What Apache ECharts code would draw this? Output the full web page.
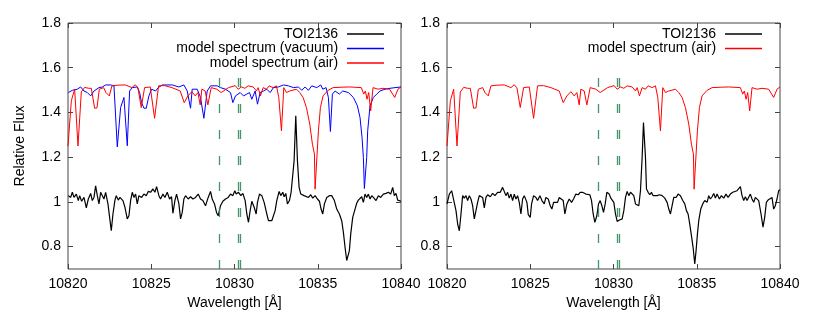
<!DOCTYPE html>
<html>
<head>
<meta charset="utf-8">
<title>TOI2136 He 10830</title>
<script src="https://cdn.jsdelivr.net/npm/echarts@6.0.0/dist/echarts.min.js"></script>
<style>
  html, body { margin: 0; padding: 0; background: #fff; }
  #chart { width: 831px; height: 320px; }
</style>
</head>
<body>
<div id="chart"></div>
<script>
// x ticks and y ticks
var xTicks = [10820, 10825, 10830, 10835, 10840];
var yTicks = [0.8, 1, 1.2, 1.4, 1.6, 1.8];

// He I triplet positions (air), dashed green markers
var heLines = [10829.09, 10830.25, 10830.34];

// TOI2136 observed spectrum (left panel)
var toiLeft = [
  [10820.02,1.028],[10820.16,1.02],[10820.26,1.043],[10820.36,1.02],[10820.50,1.035],[10820.62,1.006],
  [10820.70,1.028],[10820.82,1.003],[10820.96,1.02],[10821.10,0.973],[10821.22,1.013],[10821.36,1.038],
  [10821.46,1.006],[10821.56,1.02],[10821.66,1.072],[10821.76,1.028],[10821.86,0.991],[10821.96,1.043],
  [10822.06,1.05],[10822.16,1.013],[10822.26,1.043],[10822.40,0.991],[10822.50,0.931],[10822.60,0.871],
  [10822.70,0.946],[10822.82,1.008],[10822.90,1.028],[10823.02,1.008],[10823.12,1.02],[10823.22,1.028],
  [10823.30,1.006],[10823.42,0.976],[10823.56,0.924],[10823.66,0.938],[10823.76,1.006],[10823.86,1.043],
  [10823.96,1.02],[10824.06,1.035],[10824.16,0.991],[10824.26,1.028],[10824.42,1.02],[10824.56,1.035],
  [10824.70,1.028],[10824.82,1.047],[10824.96,1.043],[10825.10,1.058],[10825.22,1.043],[10825.32,1.068],
  [10825.46,1.028],[10825.56,1.013],[10825.70,1.035],[10825.82,1.02],[10825.96,1.043],[10826.10,1.013],
  [10826.22,1.023],[10826.30,0.949],[10826.42,1.006],[10826.52,1.035],[10826.66,0.991],[10826.76,0.924],
  [10826.86,0.953],[10826.96,1.013],[10827.06,1.028],[10827.22,1.013],[10827.36,1.023],[10827.50,1.013],
  [10827.66,1.02],[10827.82,1.035],[10827.96,1.013],[10828.10,1.006],[10828.26,0.983],[10828.42,1.02],
  [10828.56,1.047],[10828.66,1.013],[10828.80,0.991],[10828.92,0.953],[10829.02,0.938],[10829.16,0.983],
  [10829.30,1.003],[10829.46,1.013],[10829.62,1.02],[10829.76,1.035],[10829.90,1.028],[10830.02,1.05],
  [10830.10,1.035],[10830.24,1.043],[10830.38,1.028],[10830.50,1.038],[10830.64,1.006],[10830.74,0.946],
  [10830.84,0.909],[10830.94,0.961],[10831.04,1.003],[10831.18,0.976],[10831.30,0.946],[10831.38,0.998],
  [10831.50,1.035],[10831.64,1.028],[10831.78,0.998],[10831.94,0.946],[10832.04,0.916],[10832.14,0.924],
  [10832.24,0.916],[10832.34,0.919],[10832.44,0.961],[10832.54,1.006],[10832.68,1.047],[10832.78,1.028],
  [10832.90,1.043],[10832.98,1.023],[10833.08,1.038],[10833.18,0.991],[10833.30,1.006],[10833.40,1.043],
  [10833.50,1.05],[10833.58,1.184],[10833.68,1.385],[10833.78,1.184],[10833.88,1.065],[10833.98,1.035],
  [10834.08,1.043],[10834.18,1.028],[10834.30,1.035],[10834.44,1.02],[10834.58,1.032],[10834.70,1.017],
  [10834.84,1.028],[10834.98,1.013],[10835.10,1.003],[10835.20,0.968],[10835.30,0.946],[10835.40,0.991],
  [10835.54,1.02],[10835.70,1.028],[10835.84,1.028],[10836.00,1.006],[10836.14,0.968],[10836.30,0.946],
  [10836.44,0.916],[10836.54,0.864],[10836.64,0.797],[10836.74,0.738],[10836.82,0.73],[10836.90,0.782],
  [10836.98,0.856],[10837.10,0.931],[10837.24,0.968],[10837.34,0.994],[10837.44,1.008],[10837.54,1.003],
  [10837.64,1.023],[10837.74,0.998],[10837.84,1.035],[10837.94,1.02],[10838.04,1.035],[10838.14,1.013],
  [10838.24,1.028],[10838.38,1.017],[10838.50,1.006],[10838.64,1.028],[10838.78,1.02],[10838.94,1.035],
  [10839.10,1.038],[10839.24,1.043],[10839.38,1.035],[10839.50,1.065],[10839.60,1.028],[10839.70,1.038],
  [10839.80,1.008],[10839.90,1.013],[10840.00,1.003]
];

// TOI2136 spectrum (right panel)
var toiRight = [
  [10820.00,0.991],[10820.14,1.035],[10820.28,1.05],[10820.40,1.043],[10820.54,0.961],[10820.64,0.901],
  [10820.74,0.871],[10820.84,0.946],[10820.94,1.028],[10821.04,1.017],[10821.14,1.028],[10821.24,1.006],
  [10821.34,1.028],[10821.44,1.013],[10821.54,0.983],[10821.64,0.924],[10821.74,0.931],[10821.84,0.998],
  [10821.94,1.028],[10822.04,1.035],[10822.14,1.02],[10822.24,0.973],[10822.34,1.02],[10822.44,1.032],
  [10822.60,1.023],[10822.74,1.038],[10822.88,1.028],[10823.04,1.043],[10823.20,1.043],[10823.34,1.065],
  [10823.44,1.058],[10823.54,1.028],[10823.64,1.043],[10823.74,1.017],[10823.84,1.035],[10823.94,1.006],
  [10824.04,1.035],[10824.14,1.013],[10824.24,1.028],[10824.34,0.998],[10824.44,0.946],[10824.54,1.013],
  [10824.64,1.028],[10824.80,0.998],[10824.88,0.943],[10825.00,0.931],[10825.08,0.991],[10825.20,1.028],
  [10825.34,1.02],[10825.44,1.006],[10825.58,1.028],[10825.70,1.006],[10825.84,0.991],[10825.94,1.02],
  [10826.08,1.013],[10826.20,0.983],[10826.30,0.968],[10826.40,0.998],[10826.50,1.003],[10826.64,0.998],
  [10826.74,1.02],[10826.84,1.028],[10826.98,1.006],[10827.08,0.946],[10827.20,0.991],[10827.34,1.013],
  [10827.48,0.998],[10827.60,1.013],[10827.74,1.035],[10827.88,1.032],[10828.00,1.043],[10828.14,1.043],
  [10828.24,1.05],[10828.34,1.035],[10828.44,1.043],[10828.58,1.032],[10828.68,1.006],[10828.78,0.946],
  [10828.88,0.909],[10829.00,0.938],[10829.10,0.991],[10829.20,1.006],[10829.30,0.983],[10829.40,0.953],
  [10829.50,0.991],[10829.60,1.043],[10829.74,1.035],[10829.84,1.017],[10829.94,1.023],[10830.02,0.998],
  [10830.12,0.946],[10830.22,0.913],[10830.36,0.919],[10830.52,0.924],[10830.62,0.961],[10830.72,1.02],
  [10830.82,1.047],[10830.92,1.028],[10831.02,1.043],[10831.12,1.047],[10831.22,1.028],[10831.32,0.991],
  [10831.42,0.983],[10831.52,0.983],[10831.62,1.05],[10831.72,1.199],[10831.80,1.355],[10831.86,1.355],
  [10831.92,1.199],[10831.98,1.058],[10832.08,1.043],[10832.18,1.032],[10832.28,1.043],[10832.38,1.028],
  [10832.48,1.035],[10832.62,1.028],[10832.76,1.032],[10832.92,1.028],[10833.08,1.017],[10833.22,0.998],
  [10833.32,0.968],[10833.42,0.946],[10833.52,0.983],[10833.62,1.02],[10833.76,1.02],[10833.88,1.035],
  [10834.02,1.028],[10834.16,1.006],[10834.28,0.991],[10834.38,0.961],[10834.48,0.946],[10834.58,0.901],
  [10834.68,0.849],[10834.78,0.797],[10834.88,0.723],[10834.96,0.782],[10835.04,0.856],[10835.12,0.916],
  [10835.24,0.968],[10835.36,0.991],[10835.48,1.006],[10835.62,0.998],[10835.72,1.028],[10835.82,1.013],
  [10835.92,1.023],[10836.02,1.038],[10836.12,1.017],[10836.22,1.035],[10836.36,1.013],[10836.48,1.028],
  [10836.62,1.017],[10836.76,1.035],[10836.88,1.02],[10837.02,1.035],[10837.16,1.043],[10837.28,1.038],
  [10837.42,1.05],[10837.52,1.043],[10837.62,1.068],[10837.72,1.028],[10837.82,1.006],[10837.92,1.023],
  [10838.02,1.006],[10838.12,0.998],[10838.22,1.035],[10838.32,1.013],[10838.42,0.998],[10838.52,1.02],
  [10838.62,1.028],[10838.72,1.006],[10838.86,0.946],[10838.98,0.887],[10839.08,0.931],[10839.18,0.998],
  [10839.28,1.008],[10839.38,1.003],[10839.52,1.02],[10839.62,0.968],[10839.72,0.983],[10839.82,1.013],
  [10839.92,1.05],[10840.00,1.055]
];

// model spectrum, vacuum wavelengths
var modelVacuum = [
  [10820.02,1.489],[10820.26,1.499],[10820.56,1.504],[10820.76,1.514],[10820.96,1.496],[10821.16,1.489],
  [10821.36,1.474],[10821.56,1.496],[10821.86,1.511],[10822.06,1.514],[10822.26,1.523],[10822.56,1.523],
  [10822.76,1.519],[10822.96,1.246],[10823.16,1.422],[10823.36,1.467],[10823.56,1.251],[10823.70,1.496],
  [10823.86,1.511],[10824.16,1.514],[10824.30,1.489],[10824.42,1.444],[10824.56,1.419],[10824.70,1.419],
  [10824.86,1.474],[10825.02,1.504],[10825.26,1.496],[10825.42,1.511],[10825.66,1.523],[10826.26,1.523],
  [10826.66,1.514],[10826.96,1.523],[10827.16,1.496],[10827.36,1.419],[10827.46,1.504],[10827.76,1.504],
  [10827.96,1.467],[10828.16,1.374],[10828.36,1.496],[10828.56,1.519],[10828.96,1.519],[10829.16,1.511],
  [10829.46,1.504],[10829.76,1.489],[10829.90,1.444],[10830.06,1.474],[10830.34,1.489],[10830.54,1.474],
  [10830.74,1.482],[10830.90,1.489],[10831.04,1.459],[10831.24,1.496],[10831.38,1.437],[10831.54,1.489],
  [10831.74,1.496],[10831.94,1.504],[10832.14,1.489],[10832.34,1.511],[10832.64,1.514],[10832.94,1.523],
  [10833.24,1.519],[10833.54,1.511],[10833.84,1.514],[10834.04,1.499],[10834.24,1.514],[10834.44,1.499],
  [10834.64,1.519],[10834.94,1.511],[10835.18,1.523],[10835.30,1.504],[10835.50,1.511],[10835.64,1.467],
  [10835.76,1.315],[10835.88,1.482],[10836.04,1.496],[10836.30,1.482],[10836.50,1.496],[10836.84,1.489],
  [10837.14,1.467],[10837.38,1.43],[10837.54,1.377],[10837.66,1.288],[10837.74,1.199],[10837.80,1.06],
  [10837.88,1.057],[10837.94,1.199],[10838.00,1.318],[10838.14,1.43],[10838.34,1.467],[10838.54,1.482],
  [10838.74,1.496],[10839.04,1.504],[10839.34,1.508],[10839.64,1.511],[10840.00,1.514]
];

// model spectrum, air wavelengths
var modelAir = [
  [10820.00,1.25],[10820.20,1.452],[10820.40,1.504],[10820.60,1.25],[10820.80,1.492],[10821.00,1.512],
  [10821.24,1.508],[10821.40,1.508],[10821.60,1.419],[10821.74,1.42],[10821.88,1.504],[10822.14,1.511],
  [10822.28,1.489],[10822.48,1.474],[10822.64,1.519],[10823.00,1.522],[10823.44,1.523],[10823.84,1.511],
  [10824.04,1.524],[10824.20,1.51],[10824.40,1.422],[10824.60,1.511],[10824.94,1.514],[10825.20,1.374],
  [10825.44,1.519],[10825.80,1.52],[10826.24,1.511],[10826.74,1.496],[10826.98,1.444],[10827.20,1.474],
  [10827.44,1.493],[10827.64,1.474],[10827.80,1.489],[10827.94,1.434],[10828.04,1.504],[10828.24,1.496],
  [10828.40,1.434],[10828.60,1.511],[10828.94,1.504],[10829.20,1.489],[10829.64,1.511],[10830.04,1.52],
  [10830.22,1.504],[10830.42,1.514],[10830.62,1.508],[10830.82,1.519],[10831.12,1.514],[10831.32,1.496],
  [10831.42,1.511],[10831.56,1.474],[10831.72,1.511],[10831.92,1.504],[10832.08,1.519],[10832.32,1.511],
  [10832.52,1.519],[10832.66,1.467],[10832.82,1.318],[10832.96,1.511],[10833.12,1.489],[10833.32,1.496],
  [10833.72,1.504],[10833.92,1.489],[10834.12,1.467],[10834.32,1.422],[10834.52,1.348],[10834.68,1.258],
  [10834.80,1.214],[10834.84,1.057],[10834.90,1.057],[10834.96,1.214],[10835.04,1.318],[10835.16,1.422],
  [10835.32,1.474],[10835.62,1.499],[10835.92,1.511],[10836.50,1.513],[10836.92,1.514],[10837.62,1.511],
  [10837.76,1.482],[10837.86,1.496],[10837.96,1.459],[10838.06,1.489],[10838.18,1.407],[10838.32,1.511],
  [10838.62,1.504],[10838.92,1.508],[10839.32,1.504],[10839.62,1.467],[10839.82,1.504],[10840.00,1.514]
];

var FONT = 'Liberation Sans, Arial, sans-serif';
var AXIS_COLOR = '#444';

/**
 * one bottom x axis with labels + a mirrored top axis (ticks only)
 */
function xAxes(g) {
	var base = {
		type : 'value',
		gridIndex : g,
		min : xTicks[0],
		max : xTicks[xTicks.length - 1],
		interval : 5,
		axisLine : { show : false },
		splitLine : { show : false },
		axisTick : { inside : true, length : 5, lineStyle : { color : AXIS_COLOR } }
	};
	var bottom = Object.assign({}, base, {
		position : 'bottom',
		axisLabel : {
			color : '#000', fontSize : 14, fontFamily : FONT, margin : 8,
			formatter : function (v) { return String(v); }
		},
		name : 'Wavelength [Å]',
		nameLocation : 'middle',
		nameGap : 21,
		nameTextStyle : { color : '#000', fontSize : 14, fontFamily : FONT }
	});
	var top = Object.assign({}, base, { position : 'top', axisLabel : { show : false } });
	return [bottom, top];
}

function yAxes(g, withName) {
	var base = {
		type : 'value',
		gridIndex : g,
		min : 0.7,
		max : 1.8,
		axisLine : { show : false },
		splitLine : { show : false },
		axisTick : { inside : true, length : 5, customValues : yTicks, lineStyle : { color : AXIS_COLOR } }
	};
	var left = Object.assign({}, base, {
		position : 'left',
		axisLabel : {
			color : '#000', fontSize : 14, fontFamily : FONT, margin : 7,
			customValues : yTicks,
			formatter : function (v) { return String(v); }
		}
	});
	if (withName) {
		left.name = 'Relative Flux';
		left.nameLocation = 'middle';
		left.nameGap = 41;
		left.nameTextStyle = { color : '#000', fontSize : 14, fontFamily : FONT };
	}
	var right = Object.assign({}, base, { position : 'right', axisLabel : { show : false } });
	return [left, right];
}

function heMarks() {
	var d = [];
	for (var i = 0; i < heLines.length; i++) {
		d.push([{ coord : [heLines[i], 0.7] }, { coord : [heLines[i], 1.556] }]);
	}
	return {
		silent : true,
		symbol : 'none',
		label : { show : false },
		lineStyle : { color : '#2e8b57', width : 1.3, type : [9, 17], opacity : 0.9 },
		data : d
	};
}

function lineSeries(name, data, color, width, g) {
	return {
		name : name,
		type : 'line',
		xAxisIndex : g * 2,
		yAxisIndex : g * 2,
		data : data,
		symbol : 'none',
		clip : true,
		lineStyle : { color : color, width : width },
		itemStyle : { color : color }
	};
}

// plain line sample in the legend (no symbol)
var legendBase = {
	orient : 'vertical',
	align : 'right',
	top : 27,
	padding : 0,
	icon : 'path://M0,0 L37,0 L37,1.3 L0,1.3 Z',
	itemWidth : 37,
	itemHeight : 12,
	itemGap : 0.5,
	formatter : function (name) { return name + ' '; },
	textStyle : { color : '#000', fontSize : 14, fontFamily : FONT, lineHeight : 14 },
	selectedMode : false
};

var s1 = lineSeries('TOI2136', toiLeft, '#000', 1.2, 0);
var s2 = lineSeries('model spectrum (vacuum)', modelVacuum, '#0000ff', 1, 0);
var s3 = lineSeries('model spectrum (air)', modelAir, '#ff0000', 1, 0);
s3.markLine = heMarks();
var s4 = lineSeries('TOI2136', toiRight, '#000', 1.2, 1);
var s5 = lineSeries('model spectrum (air)', modelAir, '#ff0000', 1, 1);
s5.markLine = heMarks();

var option = {
	animation : false,
	backgroundColor : '#fff',
	grid : [
		{ left : 68, top : 23, width : 333, height : 246, show : true, borderColor : AXIS_COLOR, borderWidth : 1, backgroundColor : 'transparent' },
		{ left : 447, top : 23, width : 333, height : 246, show : true, borderColor : AXIS_COLOR, borderWidth : 1, backgroundColor : 'transparent' }
	],
	xAxis : xAxes(0).concat(xAxes(1)),
	yAxis : yAxes(0, true).concat(yAxes(1, false)),
	legend : [
		Object.assign({}, legendBase, { right : 447, data : ['TOI2136', 'model spectrum (vacuum)', 'model spectrum (air)'] }),
		Object.assign({}, legendBase, { right : 69, data : ['TOI2136', 'model spectrum (air)'] })
	],
	series : [s1, s2, s3, s4, s5]
};

var myChart = echarts.init(document.getElementById('chart'), null, { renderer : 'canvas' });
myChart.setOption(option);
</script>
</body>
</html>
